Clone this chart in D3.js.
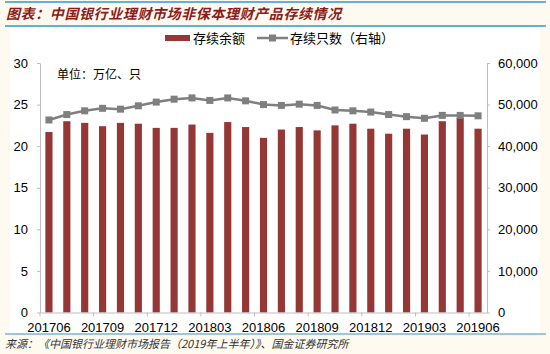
<!DOCTYPE html>
<html>
<head>
<meta charset="utf-8">
<script src="https://cdn.jsdelivr.net/npm/d3@7"></script>
<style>
  body { margin: 0; background: #fffaef; }
  svg { display: block; }
</style>
</head>
<body>
<div id="chartContainer"></div>
<script>
const months = ["201706","201707","201708","201709","201710","201711","201712","201801","201802","201803","201804","201805","201806","201807","201808","201809","201810","201811","201812","201901","201902","201903","201904","201905","201906"];
const balance = [21.7, 23.0, 22.8, 22.4, 22.8, 22.7, 22.2, 22.2, 22.6, 21.6, 22.9, 22.3, 21.0, 22.0, 22.3, 21.9, 22.5, 22.7, 22.1, 21.5, 22.1, 21.4, 23.0, 23.4, 22.1];
const counts = [46300, 47600, 48500, 49100, 48900, 49700, 50600, 51300, 51600, 51000, 51600, 50900, 50000, 49800, 50100, 49800, 48700, 48500, 48200, 47600, 47100, 46700, 47400, 47400, 47300];
const leftTicks = [0, 5, 10, 15, 20, 25, 30];
const rightTicks = [0, 10000, 20000, 30000, 40000, 50000, 60000];
const xLabels = ["201706","201709","201712","201803","201806","201809","201812","201903","201906"];

const width = 550, height = 354;
const marginLeft = 40, marginRight = 63, marginTop = 63, marginBottom = 41.5;
const barColor = "#953735";
const lineColor = "#7f7f7f";
const axisColor = "#bfbfbf";
const blue = "#2b98d8";
const font = "'Liberation Sans', Arial, sans-serif";
const cjk = "'Noto Sans CJK SC', sans-serif";

const svg = d3.create("svg")
  .attr("width", width)
  .attr("height", height)
  .attr("viewBox", [0, 0, width, height]);
document.getElementById("chartContainer").appendChild(svg.node());

// background panels
svg.append("rect").attr("width", width).attr("height", height).attr("fill", "#fffaef");
svg.append("rect").attr("x", 10).attr("y", 28).attr("width", 530).attr("height", 305).attr("fill", "#ffffff");

// blue rules
svg.append("line").attr("x1", 5).attr("x2", 546).attr("y1", 2).attr("y2", 2).attr("stroke", blue).attr("stroke-width", 1.5);
svg.append("line").attr("x1", 5).attr("x2", 546).attr("y1", 26).attr("y2", 26).attr("stroke", blue).attr("stroke-width", 1.5);
svg.append("line").attr("x1", 5).attr("x2", 546).attr("y1", 334).attr("y2", 334).attr("stroke", blue).attr("stroke-width", 1.2);

// title
svg.append("text")
  .attr("x", 6).attr("y", 19)
  .attr("fill", "#8b1c1c")
  .style("font", `italic bold 14px ${cjk}`)
  .style("letter-spacing", "0.6px")
  .text("图表：中国银行业理财市场非保本理财产品存续情况");

// source
svg.append("text")
  .attr("x", 5).attr("y", 348)
  .attr("fill", "#333")
  .style("font", `italic 11px ${cjk}`)
  .text("来源：《中国银行业理财市场报告（2019年上半年）》、国金证券研究所");

const x = d3.scaleBand()
  .domain(months)
  .range([marginLeft, width - marginRight])
  .paddingInner(0.6)
  .paddingOuter(0.3);

const y = d3.scaleLinear()
  .domain([0, 30])
  .range([height - marginBottom, marginTop]);

const y2 = d3.scaleLinear()
  .domain([0, 60000])
  .range([height - marginBottom, marginTop]);

// bars
svg.append("g")
  .attr("fill", barColor)
  .selectAll()
  .data(balance)
  .join("rect")
  .attr("x", (d, i) => x(months[i]))
  .attr("y", d => y(d))
  .attr("width", x.bandwidth())
  .attr("height", d => y(0) - y(d));

// axes
const step = x.step();
const leftAxis = svg.append("g")
  .attr("transform", `translate(${marginLeft},0)`)
  .call(d3.axisLeft(y).tickValues(leftTicks).tickSize(3).tickPadding(9).tickSizeOuter(0));
const rightAxis = svg.append("g")
  .attr("transform", `translate(${width - marginRight},0)`)
  .call(d3.axisRight(y2).tickValues(rightTicks).tickSize(3).tickPadding(8).tickSizeOuter(0).tickFormat(d3.format(",")));
const bottomAxis = svg.append("g")
  .attr("transform", `translate(0,${height - marginBottom})`)
  .call(d3.axisBottom(x).tickValues(xLabels).tickSize(0).tickPadding(10));

[leftAxis, rightAxis, bottomAxis].forEach(g => {
  g.select(".domain").attr("stroke", axisColor);
  g.selectAll(".tick line").attr("stroke", axisColor);
  g.selectAll("text").style("font", `13px ${font}`).attr("fill", "#000");
});

// x ticks at band boundaries every 3 months
svg.append("g")
  .attr("stroke", axisColor)
  .selectAll()
  .data(xLabels)
  .join("line")
  .attr("x1", d => x(d) - step * x.paddingInner() / 2 - (x(d) - x(months[0]) === 0 ? step * (x.paddingOuter() - x.paddingInner() / 2) : 0))
  .attr("x2", d => x(d) - step * x.paddingInner() / 2 - (x(d) - x(months[0]) === 0 ? step * (x.paddingOuter() - x.paddingInner() / 2) : 0))
  .attr("y1", height - marginBottom)
  .attr("y2", height - marginBottom + 4);

// line
const cx = (d, i) => x(months[i]) + x.bandwidth() / 2;
svg.append("path")
  .datum(counts)
  .attr("fill", "none")
  .attr("stroke", lineColor)
  .attr("stroke-width", 2.5)
  .attr("d", d3.line().x(cx).y(d => y2(d)));

svg.append("g")
  .attr("fill", lineColor)
  .selectAll()
  .data(counts)
  .join("rect")
  .attr("x", (d, i) => cx(d, i) - 3.5)
  .attr("y", d => y2(d) - 3.5)
  .attr("width", 7)
  .attr("height", 7);

// unit note
svg.append("text")
  .attr("x", 57).attr("y", 79)
  .style("font", `12px ${cjk}`)
  .attr("fill", "#000")
  .text("单位：万亿、只");

// legend
const legend = svg.append("g").style("font", `13px ${cjk}`);
legend.append("rect").attr("x", 165).attr("y", 35).attr("width", 25).attr("height", 6).attr("fill", barColor);
legend.append("text").attr("x", 193).attr("y", 43).text("存续余额");
legend.append("line").attr("x1", 257).attr("x2", 288).attr("y1", 38).attr("y2", 38).attr("stroke", lineColor).attr("stroke-width", 2.5);
legend.append("rect").attr("x", 269).attr("y", 34.5).attr("width", 7).attr("height", 7).attr("fill", lineColor);
legend.append("text").attr("x", 290).attr("y", 43).text("存续只数（右轴）");
</script>
</body>
</html>
